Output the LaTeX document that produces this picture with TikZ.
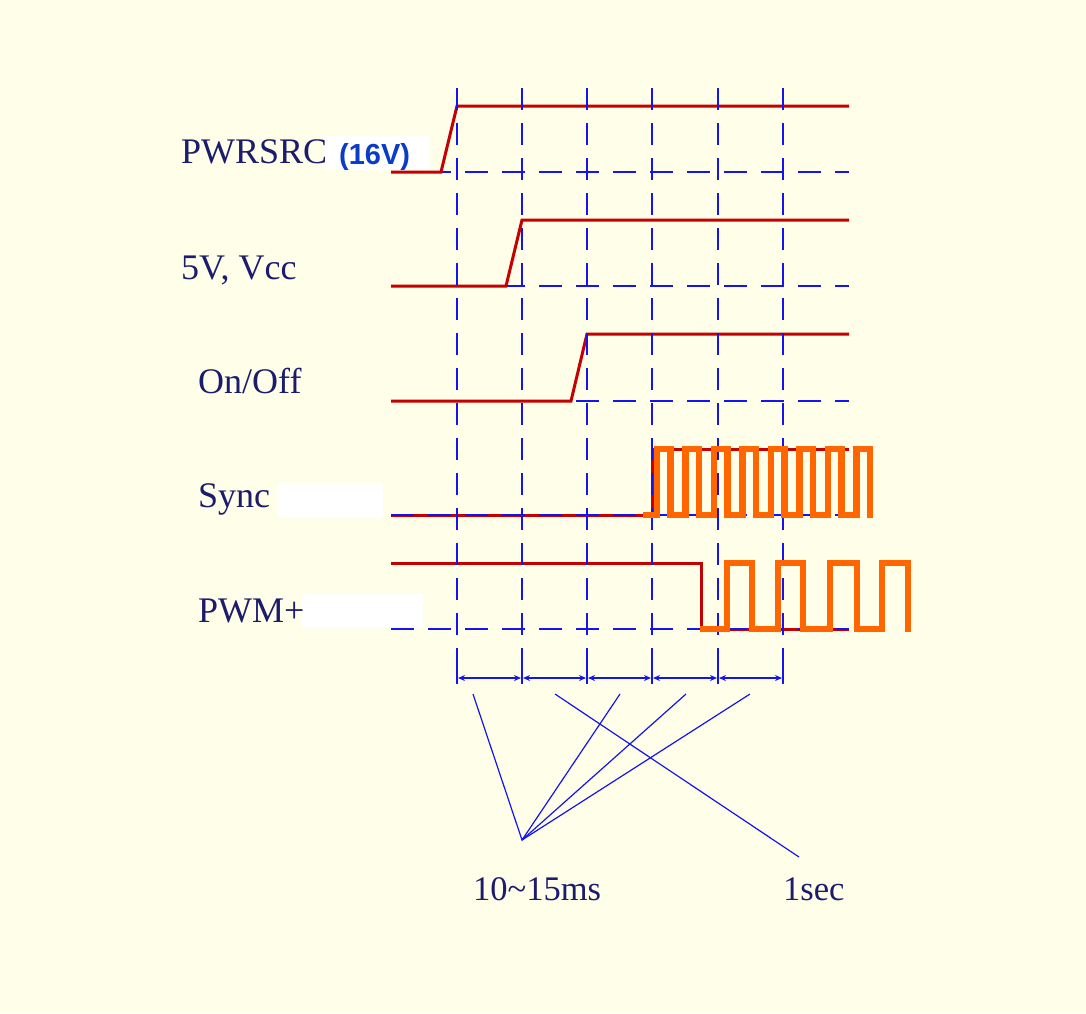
\documentclass[tikz,border=0pt]{standalone}
\usepackage{fontspec}
\setmainfont{Liberation Serif}
\newfontfamily\labsans{Liberation Sans}
\usetikzlibrary{arrows.meta}
\definecolor{bg}{RGB}{255,254,233}
\definecolor{sigred}{RGB}{196,0,0}
\definecolor{sigorange}{RGB}{255,102,0}
\definecolor{gridblue}{RGB}{20,20,240}
\definecolor{labnavy}{RGB}{28,28,110}
\definecolor{tagblue}{RGB}{10,60,200}
\begin{document}
\begin{tikzpicture}[x=1pt,y=-1pt,
  hgrid/.style={gridblue, line width=1.8pt, dash pattern=on 23pt off 14pt},
  vgrid/.style={gridblue, line width=1.8pt, dash pattern=on 22pt off 13pt},
  sig/.style={sigred, line width=3pt, line join=miter},
  pulse/.style={sigorange, line width=6.5pt, line join=miter},
  lab/.style={anchor=base west, inner sep=0pt, text=labnavy, font=\fontsize{36}{40}\selectfont},
  tag/.style={anchor=base west, inner sep=0pt, text=tagblue, font=\labsans\bfseries\fontsize{29}{34}\selectfont},
  mask/.style={fill=white, draw=none},
  dim/.style={gridblue, line width=1.8pt},
  dimarr/.style={dim, {Stealth[length=7pt,width=6pt]}-{Stealth[length=7pt,width=6pt]}, shorten <=1pt, shorten >=1pt},
  lead/.style={gridblue, line width=1.2pt}]
\useasboundingbox (0,0) rectangle (1086,1013);
\fill[bg] (0,0) rectangle (1086,1013);

% masks
\fill[mask] (323,136) rectangle (429,170);
\fill[mask] (278,483) rectangle (383,517);
\fill[mask] (302,593) rectangle (423,627);

% labels
\node[lab] (lpwr) at (181,163) {PWRSRC};
\node[tag] (l16) at (339,164) {(16V)};
\node[lab] (l5v) at (181,279) {5V, Vcc};
\node[lab] (lon) at (198,393) {On/Off};
\node[lab] (lsync) at (198,507) {Sync};
\node[lab] (lpwm) at (198,622) {PWM+};
\node[lab, font=\fontsize{34.5}{40}\selectfont] (lms) at (473,900) {10\textasciitilde15ms};
\node[lab, font=\fontsize{34.5}{40}\selectfont] (lsec) at (783,900) {1sec};

% horizontal grid (under red) rows 1-3
\draw[hgrid] (391,172) -- (849,172);
\draw[hgrid] (391,286) -- (849,286);
\draw[hgrid] (391,401) -- (849,401);

% red signals
\draw[sig] (391,172) -- (441,172) -- (457,106) -- (849,106);
\draw[sig] (391,286) -- (506,286) -- (522,220) -- (849,220);
\draw[sig] (391,401) -- (571,401) -- (587,334) -- (849,334);
\draw[sig] (391,515) -- (652,515) -- (652,449) -- (849,449);
\draw[sig] (391,563) -- (701,563) -- (701,629) -- (849,629);

% horizontal grid over red rows 4-5
\draw[hgrid] (391,515) -- (849,515);
\draw[hgrid] (391,629) -- (849,629);

% vertical grid
\foreach \x in {457,522,587,652,718,783}
  \draw[vgrid] (\x,88) -- (\x,662);

% orange pulses
\draw[pulse] (643,515) -- (657,515) -- (657,449) -- (670.5,449) -- (670.5,515)
  -- (685.5,515) -- (685.5,449) -- (699,449) -- (699,515)
  -- (714,515) -- (714,449) -- (727.5,449) -- (727.5,515)
  -- (742.5,515) -- (742.5,449) -- (756,449) -- (756,515)
  -- (771,515) -- (771,449) -- (784.5,449) -- (784.5,515)
  -- (799.5,515) -- (799.5,449) -- (813,449) -- (813,515)
  -- (828,515) -- (828,449) -- (841.5,449) -- (841.5,515)
  -- (856.5,515) -- (856.5,449) -- (870,449) -- (870,518);
\draw[pulse] (700,629) -- (727,629) -- (727,563) -- (752,563) -- (752,629)
  -- (778,629) -- (778,563) -- (803,563) -- (803,629)
  -- (830,629) -- (830,563) -- (857,563) -- (857,629)
  -- (882,629) -- (882,563) -- (908,563) -- (908,632);

% dimension line
\coordinate (t1) at (457,678);
\coordinate (t2) at (522,678);
\coordinate (t3) at (587,678);
\coordinate (t4) at (652,678);
\coordinate (t5) at (718,678);
\coordinate (t6) at (783,678);
\foreach \t in {t1,t2,t3,t4,t5,t6}
  \draw[dim] ([yshift=-6pt]\t) -- ([yshift=16pt]\t);
\draw[dimarr] (t1) -- (t2);
\draw[dimarr] (t2) -- (t3);
\draw[dimarr] (t3) -- (t4);
\draw[dimarr] (t4) -- (t5);
\draw[dimarr] (t5) -- (t6);

% leader lines
\coordinate (apex) at (522,840);
\coordinate (a1) at (473,694);
\coordinate (a2) at (620,694);
\coordinate (a3) at (686,694);
\coordinate (a4) at (750,694);
\coordinate (b1) at (555,694);
\coordinate (b2) at (799,857);
\draw[lead] (a1) -- (apex) -- (a2);
\draw[lead] (apex) -- (a3);
\draw[lead] (apex) -- (a4);
\draw[lead] (b1) -- (b2);
\end{tikzpicture}
\end{document}
